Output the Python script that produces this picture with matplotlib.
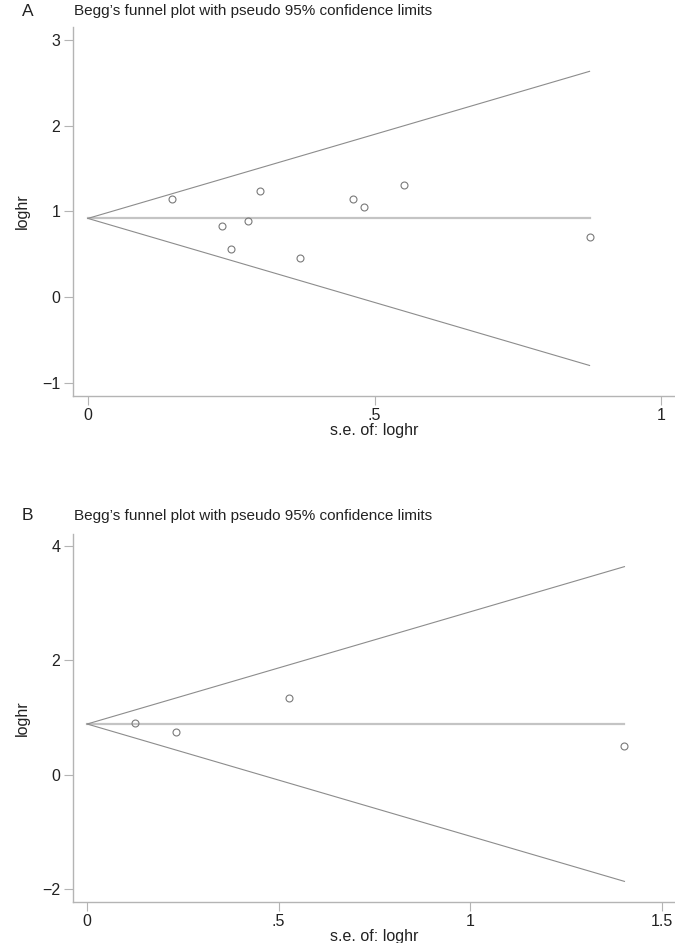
import matplotlib.pyplot as plt
import matplotlib.ticker as mticker
import numpy as np

plt.rcParams['font.family'] = ['Liberation Sans', 'DejaVu Sans']

# panel A data
se_a = [0.147, 0.234, 0.250, 0.279, 0.300, 0.370, 0.463, 0.482, 0.551, 0.875]
loghr_a = [1.140, 0.833, 0.556, 0.891, 1.242, 0.456, 1.148, 1.047, 1.308, 0.696]
pooled_a = 0.918

# panel B data
se_b = [0.125, 0.233, 0.526, 1.403]
loghr_b = [0.904, 0.752, 1.352, 0.51]
pooled_b = 0.89

linha = '#8c8c8c'
eixo = '#b4b4b4'
texto = '#222222'
titulo = "Begg\u2019s funnel plot with pseudo 95% confidence limits"


def fmt(v, pos):
    s = ('%g' % v)
    if s.startswith('0.'):
        s = s[1:]
    return s.replace('-', '\u2212')


def funil(ax, se, loghr, pooled, xlim, ylim, xticks, yticks):
    smax = max(se)
    xs = np.array([0, smax])
    # linha do efeito combinado e limites de 95%
    ax.plot(xs, [pooled, pooled], color='#c4c4c4', lw=1.6, zorder=1)
    ax.plot(xs, pooled + 1.96 * xs, color=linha, lw=0.8, zorder=2)
    ax.plot(xs, pooled - 1.96 * xs, color=linha, lw=0.8, zorder=2)
    ax.plot(se, loghr, 'o', mfc='none', mec='#7a7a7a', mew=0.8, ms=5, zorder=3)

    ax.set_xlim(xlim)
    ax.set_ylim(ylim)
    ax.set_xticks(xticks)
    ax.set_yticks(yticks)
    ax.xaxis.set_major_formatter(mticker.FuncFormatter(fmt))
    ax.yaxis.set_major_formatter(mticker.FuncFormatter(fmt))
    ax.tick_params(direction='out', length=6.5, width=0.8, color=eixo,
                   labelsize=11.5, pad=2.5, labelcolor=texto)
    for lado in ['top', 'right']:
        ax.spines[lado].set_visible(False)
    for lado in ['left', 'bottom']:
        ax.spines[lado].set_color(eixo)
        ax.spines[lado].set_linewidth(1.0)

    ax.set_xlabel('s.e. of: loghr', fontsize=11.5, labelpad=0, color=texto)
    ax.set_ylabel('loghr', fontsize=11.5, labelpad=9, color=texto)


fig = plt.figure(figsize=(6.75, 9.43), dpi=100)

ax1 = fig.add_axes([73 / 675, 1 - 396 / 943, 602 / 675, (396 - 27) / 943])
funil(ax1, se_a, loghr_a, pooled_a, (-0.026, 1.024), (-1.153, 3.15),
      [0, 0.5, 1], [-1, 0, 1, 2, 3])

ax2 = fig.add_axes([73 / 675, 1 - 902 / 943, 602 / 675, (902 - 534) / 943])
funil(ax2, se_b, loghr_b, pooled_b, (-0.037, 1.535), (-2.22, 4.21),
      [0, 0.5, 1, 1.5], [-2, 0, 2, 4])

# titulos e letras dos paineis
fig.text(74 / 675, 1 - 10.5 / 943, titulo, fontsize=11, va='center', ha='left', color=texto)
fig.text(22 / 675, 1 - 11 / 943, 'A', fontsize=12.5, va='center', ha='left', color=texto)
fig.text(74 / 675, 1 - 516 / 943, titulo, fontsize=11, va='center', ha='left', color=texto)
fig.text(22 / 675, 1 - 516 / 943, 'B', fontsize=12.5, va='center', ha='left', color=texto)

fig.savefig('out.png', dpi=100)
